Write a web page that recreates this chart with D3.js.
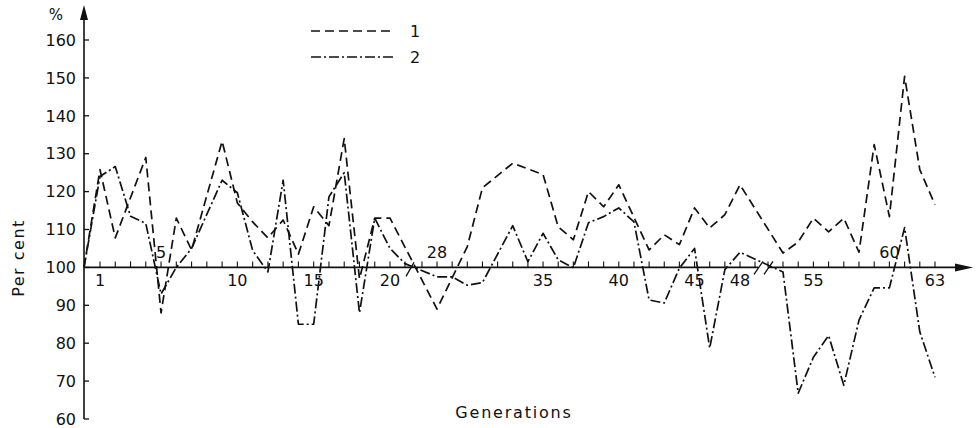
<!DOCTYPE html>
<html><head><meta charset="utf-8">
<script src="https://cdn.jsdelivr.net/npm/d3@7"></script>
<style>
html,body{margin:0;padding:0;background:#fff;}
text{font-family:"DejaVu Sans",sans-serif;fill:#111;}
</style></head>
<body>
<svg id="chart" width="977" height="428"></svg>
<script>
// Generations at which each series has a plotted vertex
const gen1 = [0,1,2,4,5,6,7,9,10,11,12,13,14,15,16,17,18,19,20,28,30,31,33,35,36,37,38,39,40,42,43,44,45,46,47,48,53,54,55,56,57,58,59,60,61,62,63];
const series1 = [100,125.8,107.8,129,88,113,104.6,133.3,117,112,107.8,112.5,103.5,116,111,134,97,113,113,89,105.5,121,127.5,124.5,110.7,107.3,120,116,121.8,104.6,108.6,106,115.7,110.4,113.9,121.8,103.8,106.7,113,109.4,113,104,132.4,113.4,150.4,125.8,116.5];
const gen2 = [0,1,2,3,4,5,6,7,9,10,11,12,13,14,15,16,17,18,19,20,21,28,29,30,31,33,34,35,36,37,38,39,40,41,42,43,44,45,46,47,48,53,54,55,56,57,58,59,60,61,62,63];
const series2 = [100,124,126.6,113.5,111.6,93,100,105,123,119.7,104.5,98.8,123,85,85,118.6,125,88,113,105,101,97.5,97.5,95.3,96,111,101.5,109,102,99.9,111.8,113.4,115.7,112,91.4,90.6,99.8,105,78.7,99.4,104,98.8,66.8,76.3,82,68.9,86.1,94.6,94.6,110.5,83,71];
const yTicks = [60,70,80,90,100,110,120,130,140,150,160];
const xTickGens = [1,2,3,4,5,6,7,8,9,10,11,12,13,14,15,16,17,18,19,20,21,27,28,29,30,31,32,33,34,35,36,37,38,39,40,41,42,43,44,45,46,47,48,49,52,53,54,55,56,57,58,59,60,61,62,63];
const xLabelsBelow = [1,10,15,20,35,40,45,48,55,63];
const xLabelsAbove = [5,28,60];
const legendNames = ["1","2"];

const svg = d3.select("#chart");
// broken generation axis: piecewise linear scale
const x = d3.scaleLinear()
  .domain([0,1,20,21,27,28,48,49,52,53,63])
  .range([84,100,390,405,422,437,740,755,768,783,935]);
const y = d3.scaleLinear().domain([60,160]).range([419,40]);
const y0 = y(100);

const g = svg.append("g");
const stroke = "#111";

// y axis
g.append("line").attr("x1",84).attr("x2",84).attr("y1",y(60)).attr("y2",14)
  .attr("stroke",stroke).attr("stroke-width",1.6);
g.append("path").attr("d","M84,5 L80,20 L88,20 Z").attr("fill",stroke);
g.selectAll(".yt").data(yTicks).join("line")
  .attr("x1",84).attr("x2",89).attr("y1",d=>y(d)).attr("y2",d=>y(d))
  .attr("stroke",stroke).attr("stroke-width",1.3);
g.selectAll(".yl").data(yTicks).join("text")
  .attr("x",76).attr("y",d=>y(d)).attr("dy","0.36em")
  .attr("text-anchor","end").attr("font-size",16).text(d=>d);
g.append("text").attr("x",56).attr("y",20).attr("font-size",15).attr("text-anchor","middle").text("%");
g.append("text").attr("transform","translate(24,258) rotate(-90)")
  .attr("text-anchor","middle").attr("font-size",16).attr("letter-spacing",1.5).text("Per cent");

// x axis (with breaks)
const axisSegs = [[84,758],[768,958]];
g.selectAll(".xa").data(axisSegs).join("line")
  .attr("x1",d=>d[0]).attr("x2",d=>d[1]).attr("y1",y0).attr("y2",y0)
  .attr("stroke",stroke).attr("stroke-width",1.6);
g.append("path").attr("d",`M973,${y0} L955,${y0-4} L955,${y0+4} Z`).attr("fill",stroke);
g.selectAll(".xt").data(xTickGens).join("line")
  .attr("x1",d=>x(d)).attr("x2",d=>x(d)).attr("y1",y0).attr("y2",y0-6)
  .attr("stroke",stroke).attr("stroke-width",1.1);
// break marks
g.append("line").attr("x1",406).attr("y1",y0+9).attr("x2",414).attr("y2",y0-5).attr("stroke",stroke).attr("stroke-width",1.3);
[754,764].forEach(bx=>{
  g.append("line").attr("x1",bx).attr("y1",y0+7).attr("x2",bx+9).attr("y2",y0-6).attr("stroke",stroke).attr("stroke-width",1.3);
});
g.selectAll(".xlb").data(xLabelsBelow).join("text")
  .attr("x",d=>x(d)).attr("y",y0+19).attr("text-anchor","middle").attr("font-size",16).text(d=>d);
g.selectAll(".xla").data(xLabelsAbove).join("text")
  .attr("x",d=>x(d)).attr("y",y0-9).attr("text-anchor","middle").attr("font-size",16).text(d=>d);
g.append("text").attr("x",514).attr("y",418).attr("text-anchor","middle").attr("font-size",16)
  .attr("letter-spacing",1.8).text("Generations");

// series
const dash1 = "9,5";
const dash2 = "10,3,2,3";
const line = d3.line().x(d=>x(d[0])).y(d=>y(d[1]));
g.append("path").datum(gen1.map((gv,i)=>[gv,series1[i]]))
  .attr("d",line).attr("fill","none").attr("stroke",stroke).attr("stroke-width",1.7)
  .attr("stroke-dasharray",dash1).attr("stroke-linejoin","round");
g.append("path").datum(gen2.map((gv,i)=>[gv,series2[i]]))
  .attr("d",line).attr("fill","none").attr("stroke",stroke).attr("stroke-width",1.7)
  .attr("stroke-dasharray",dash2).attr("stroke-linejoin","round");

// legend
const leg = g.selectAll(".leg").data(legendNames).join("g")
  .attr("transform",(d,i)=>`translate(311,${31+i*26})`);
leg.append("line").attr("x1",0).attr("x2",84).attr("y1",0).attr("y2",0)
  .attr("stroke",stroke).attr("stroke-width",1.7)
  .attr("stroke-dasharray",(d,i)=>i===0?dash1:dash2);
leg.append("text").attr("x",104).attr("y",0).attr("dy","0.36em").attr("text-anchor","middle")
  .attr("font-size",16).text(d=>d);
</script>
</body></html>
